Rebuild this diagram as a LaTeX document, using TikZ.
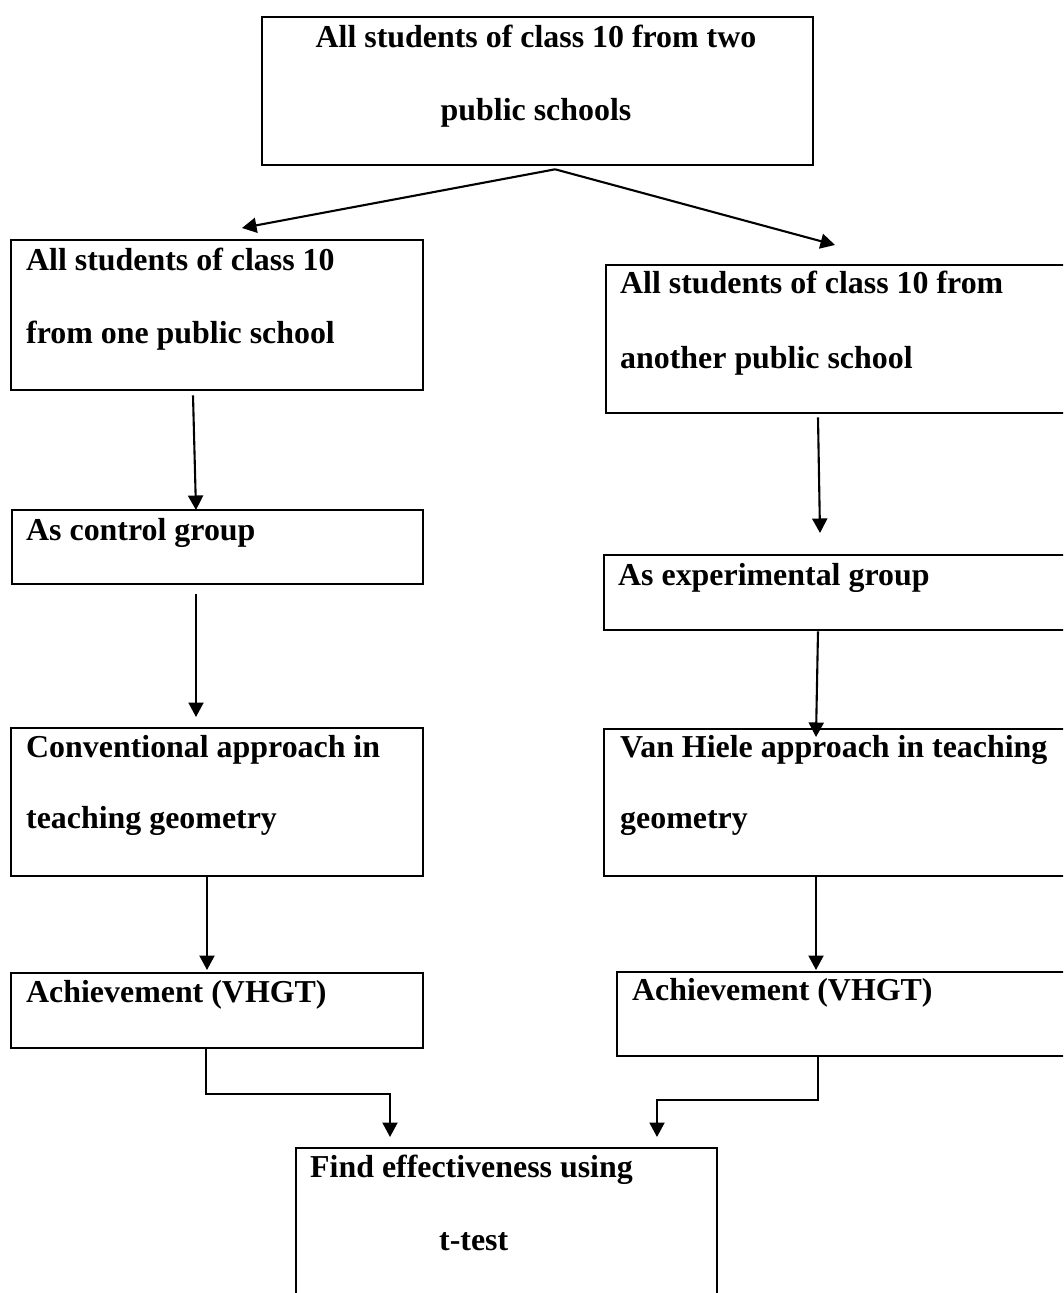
\documentclass[tikz,border=0pt]{standalone}
\usepackage{fontspec}
\setmainfont{Liberation Serif}
\usetikzlibrary{arrows.meta}
\begin{document}
\begin{tikzpicture}[x=1pt,y=-1pt,
  box/.style={draw, line width=2.3pt, inner sep=0pt, anchor=north west},
  txt/.style={inner sep=0pt, anchor=base west, font=\fontsize{31.9}{36}\selectfont\bfseries},
  ctxt/.style={txt, anchor=base},
  arr/.style={line width=2.1pt, -{Triangle[length=14.5pt,width=15pt]}}]
\useasboundingbox (0,0) rectangle (1063,1293);
\clip (0,0) rectangle (1063,1293);
\fill[white] (0,0) rectangle (1063,1293);
% boxes
\node[box, minimum width=551pt, minimum height=148pt] (top) at (261,16) {};
\node[box, minimum width=412pt, minimum height=150pt] (lb1) at (10,239) {};
\node[box, minimum width=470pt, minimum height=148pt] (rb1) at (605,264) {};
\node[box, minimum width=411pt, minimum height=74pt] (lb2) at (11,509) {};
\node[box, minimum width=472pt, minimum height=75pt] (rb2) at (603,554) {};
\node[box, minimum width=412pt, minimum height=148pt] (lb3) at (10,727) {};
\node[box, minimum width=472pt, minimum height=147pt] (rb3) at (603,728) {};
\node[box, minimum width=412pt, minimum height=75pt] (lb4) at (10,972) {};
\node[box, minimum width=459pt, minimum height=84pt] (rb4) at (616,971) {};
\node[box, minimum width=421pt, minimum height=200pt] (bot) at (295,1147) {};
% texts
\node[ctxt] (t1) at (536,47) {All students of class 10 from two};
\node[ctxt] (t2) at (536,120) {public schools};
\node[txt] (l1a) at (26,270) {All students of class 10};
\node[txt] (l1b) at (26,343) {from one public school};
\node[txt] (r1a) at (620,293) {All students of class 10 from};
\node[txt] (r1b) at (620,368) {another public school};
\node[txt] (l2a) at (26,540) {As control group};
\node[txt] (r2a) at (618,585) {As experimental group};
\node[txt] (l3a) at (26,757) {Conventional approach in};
\node[txt] (l3b) at (26,828) {teaching geometry};
\node[txt] (r3a) at (620,757) {Van Hiele approach in teaching};
\node[txt] (r3b) at (620,828) {geometry};
\node[txt] (l4a) at (26,1002) {Achievement (VHGT)};
\node[txt] (r4a) at (632,1000) {Achievement (VHGT)};
\node[txt] (b1) at (310,1177) {Find effectiveness using};
\node[txt] (b2) at (439,1250) {t-test};
% connectors
\draw[arr] ([shift={(17.5,3)}]top.south) -- ([shift={(232,-11)}]lb1.north west);
\draw[arr] ([shift={(17.5,3)}]top.south) -- ([shift={(230,-19)}]rb1.north west);
\draw[arr] ([shift={(183,4)}]lb1.south west) -- ([shift={(185,1)}]lb2.north west);
\draw[arr] ([shift={(185,9)}]lb2.south west) -- ([shift={(186,-10)}]lb3.north west);
\draw[arr] ([shift={(197,0)}]lb3.south west) -- ([shift={(197,-2)}]lb4.north west);
\draw[arr] ([shift={(213,3)}]rb1.south west) -- ([shift={(217,-21)}]rb2.north west);
\draw[arr] ([shift={(215,0)}]rb2.south west) -- ([shift={(213,9)}]rb3.north west);
\draw[arr] ([shift={(213,0)}]rb3.south west) -- ([shift={(200,-1)}]rb4.north west);
\draw[arr] ([shift={(196,0)}]lb4.south west) -- ++(0,45) -| ([shift={(95,-10)}]bot.north west);
\draw[arr] ([shift={(202,0)}]rb4.south west) -- ++(0,43) -| ([shift={(362,-10)}]bot.north west);
\end{tikzpicture}
\end{document}
